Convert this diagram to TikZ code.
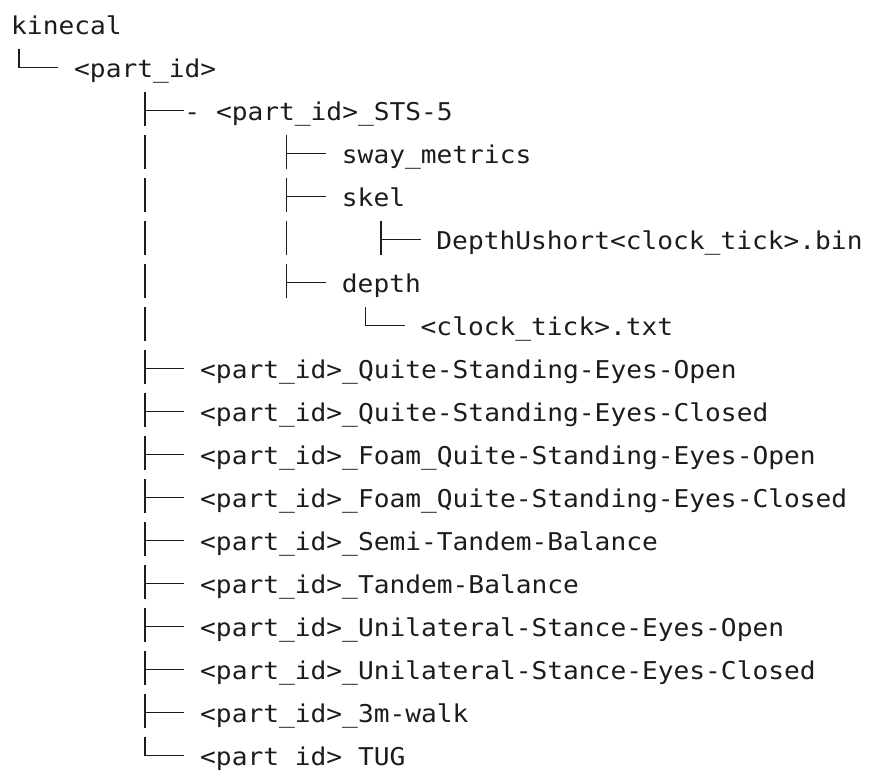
\documentclass[tikz,border=0pt]{standalone}
\usepackage{fontspec}
\newfontfamily\treefont[FakeStretch=1.07]{DejaVu Sans Mono}
\definecolor{ink}{HTML}{1C1C1C}
\tikzset{
    % directory entry
    entry/.style={
           anchor=base west,
           inner sep=0pt,
           text height=24pt,
           text depth=4pt,
           text=ink,
           font=\treefont\fontsize{24.5}{30}\selectfont,},
    % vertical tree line, broken per row
    trunk/.style={
           draw=ink,
           line width=1.6pt,
           dash pattern=on 34pt off 9pt,},
    % horizontal branch
    twig/.style={
           draw=ink,
           line width=1.6pt,}
}

\begin{document}
\begin{tikzpicture}[x=15.75pt, y=-43pt]
\useasboundingbox (0,0) rectangle (869pt,-771pt);
\begin{scope}[shift={(11pt,-34.5pt)}]
%Nodes
\node[entry] (kin) at (0,0) {kinecal};
\node[entry] (pid) at (4,1) {<part\_id>};
\node[entry] (sts) at (11,2) {- <part\_id>\_STS-5};
\node[entry] (sway) at (21,3) {sway\_metrics};
\node[entry] (skel) at (21,4) {skel};
\node[entry] (bin) at (27,5) {DepthUshort<clock\_tick>.bin};
\node[entry] (depth) at (21,6) {depth};
\node[entry] (txt) at (26,7) {<clock\_tick>.txt};
\node[entry] (qso) at (12,8) {<part\_id>\_Quite-Standing-Eyes-Open};
\node[entry] (qsc) at (12,9) {<part\_id>\_Quite-Standing-Eyes-Closed};
\node[entry] (fqo) at (12,10) {<part\_id>\_Foam\_Quite-Standing-Eyes-Open};
\node[entry] (fqc) at (12,11) {<part\_id>\_Foam\_Quite-Standing-Eyes-Closed};
\node[entry] (semi) at (12,12) {<part\_id>\_Semi-Tandem-Balance};
\node[entry] (tandem) at (12,13) {<part\_id>\_Tandem-Balance};
\node[entry] (uso) at (12,14) {<part\_id>\_Unilateral-Stance-Eyes-Open};
\node[entry] (usc) at (12,15) {<part\_id>\_Unilateral-Stance-Eyes-Closed};
\node[entry] (walk) at (12,16) {<part\_id>\_3m-walk};
\node[entry] (tug) at (12,17) {<part id> TUG};

%Tree lines
\coordinate (c0) at (0.5,0);
\coordinate (c8) at (8.5,0);
\coordinate (c17) at (17.5,0);
\coordinate (c22) at (22.5,0);
\coordinate (c23) at (23.5,0);

\path[trunk] ([yshift=19pt]c0 |- pid.west) -- (c0 |- pid.west);
\path[trunk] ([yshift=19pt]c8 |- sts.west) -- (c8 |- tug.west);
\path[trunk] ([yshift=19pt]c17 |- sway.west) -- ([yshift=-15pt]c17 |- depth.west);
\path[trunk] ([yshift=19pt]c23 |- bin.west) -- ([yshift=-15pt]c23 |- bin.west);
\path[trunk] ([yshift=19pt]c22 |- txt.west) -- (c22 |- txt.west);

\path[twig] (c0 |- pid.west) -- ++(2.5,0);
\path[twig] (c8 |- sts.west) -- ++(2.5,0);
\path[twig] (c17 |- sway.west) -- ++(2.5,0);
\path[twig] (c17 |- skel.west) -- ++(2.5,0);
\path[twig] (c23 |- bin.west) -- ++(2.5,0);
\path[twig] (c17 |- depth.west) -- ++(2.5,0);
\path[twig] (c22 |- txt.west) -- ++(2.5,0);
\path[twig] (c8 |- qso.west) -- ++(2.5,0);
\path[twig] (c8 |- qsc.west) -- ++(2.5,0);
\path[twig] (c8 |- fqo.west) -- ++(2.5,0);
\path[twig] (c8 |- fqc.west) -- ++(2.5,0);
\path[twig] (c8 |- semi.west) -- ++(2.5,0);
\path[twig] (c8 |- tandem.west) -- ++(2.5,0);
\path[twig] (c8 |- uso.west) -- ++(2.5,0);
\path[twig] (c8 |- usc.west) -- ++(2.5,0);
\path[twig] (c8 |- walk.west) -- ++(2.5,0);
\path[twig] (c8 |- tug.west) -- ++(2.5,0);
\end{scope}
\end{tikzpicture}
\end{document}
